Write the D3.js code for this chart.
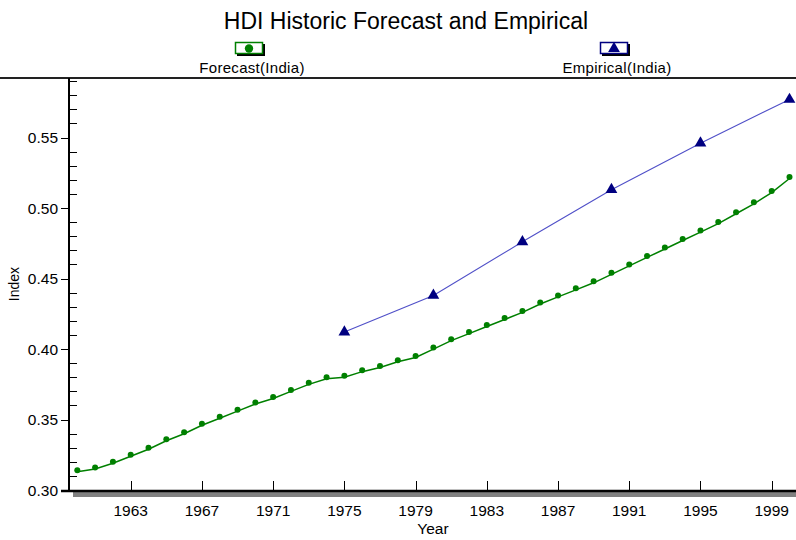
<!DOCTYPE html>
<html>
<head>
<meta charset="utf-8">
<script src="https://cdn.jsdelivr.net/npm/d3@7/dist/d3.min.js"></script>
<style>
  html, body { margin: 0; padding: 0; background: #fff; }
  svg { display: block; font-family: "Liberation Sans", Arial, sans-serif; }
</style>
</head>
<body>
<svg id="chart" width="796" height="540"></svg>
<script>
// Forecast HDI for India, one value per year 1960-2000
const forecastYears = d3.range(1960, 2001);
const forecastValues = [
  0.314, 0.316, 0.320, 0.325, 0.330, 0.336, 0.341, 0.347, 0.352, 0.357,
  0.362, 0.366, 0.371, 0.376, 0.380, 0.381, 0.385, 0.388, 0.392, 0.395,
  0.401, 0.407, 0.412, 0.417, 0.422, 0.427, 0.433, 0.438, 0.443, 0.448,
  0.454, 0.460, 0.466, 0.472, 0.478, 0.484, 0.490, 0.497, 0.504, 0.512,
  0.522
];
// Empirical HDI for India, five-year observations
const empiricalYears = [1975, 1980, 1985, 1990, 1995, 2000];
const empiricalValues = [0.412, 0.438, 0.476, 0.513, 0.546, 0.577];

const xTickYears = [1963, 1967, 1971, 1975, 1979, 1983, 1987, 1991, 1995, 1999];
const yMajorTicks = [0.30, 0.35, 0.40, 0.45, 0.50, 0.55];

const forecast = forecastYears.map((yr, i) => ({ year: yr, value: forecastValues[i] }));
const empirical = empiricalYears.map((yr, i) => ({ year: yr, value: empiricalValues[i] }));

const svg = d3.select("#chart");
const W = 796;
const plotLeft = 69, plotTop = 78, plotBottom = 491;

const x = d3.scaleLinear().domain([1959.5, 2000.5]).range([68.4, 798.4]);
const y = d3.scaleLinear().domain([0.30, 0.55]).range([490, 137.5]);

// Title
svg.append("text")
  .attr("x", 406).attr("y", 29)
  .attr("text-anchor", "middle")
  .attr("font-size", 23)
  .attr("fill", "#000")
  .text("HDI Historic Forecast and Empirical");

// Legend
const legendItems = [
  { label: "Forecast(India)", box: [235, 42], text: [252, 73], color: "#008000", sym: "circle" },
  { label: "Empirical(India)", box: [600, 42], text: [617, 73], color: "#000080", sym: "triangle" }
];
legendItems.forEach(l => {
  const g = svg.append("g");
  g.append("rect").attr("x", l.box[0] + 2).attr("y", l.box[1] + 2)
    .attr("width", 28).attr("height", 12).attr("fill", "#000");
  g.append("rect").attr("x", l.box[0] + 0.5).attr("y", l.box[1] + 0.5)
    .attr("width", 27).attr("height", 11).attr("fill", "#fff")
    .attr("stroke", l.color).attr("stroke-width", 1.5);
  const sym = l.sym === "circle" ? d3.symbolCircle : d3.symbolTriangle;
  g.append("path")
    .attr("d", d3.symbol().type(sym).size(l.sym === "circle" ? 55 : 60)())
    .attr("transform", `translate(${l.box[0] + 14},${l.box[1] + 6.5})`)
    .attr("fill", l.color);
  g.append("text").attr("x", l.text[0]).attr("y", l.text[1])
    .attr("text-anchor", "middle").attr("font-size", 15)
    .attr("letter-spacing", 0.3)
    .text(l.label);
});

// Separator line under the legend
svg.append("line").attr("x1", 0).attr("x2", W)
  .attr("y1", plotTop).attr("y2", plotTop)
  .attr("stroke", "#222").attr("stroke-width", 2);

// Clip for plotted marks
svg.append("clipPath").attr("id", "plotClip")
  .append("rect").attr("x", plotLeft).attr("y", plotTop)
  .attr("width", W - plotLeft).attr("height", plotBottom - plotTop + 6);

// X-axis shadow
svg.append("rect").attr("x", 73).attr("y", 492).attr("width", W - 73).attr("height", 5)
  .attr("fill", "#808080");

// Y-axis: major ticks outward, minor ticks inward
const yAxis = svg.append("g");
yAxis.append("line").attr("x1", plotLeft).attr("x2", plotLeft).attr("y1", plotTop).attr("y2", plotBottom)
  .attr("stroke", "#000").attr("stroke-width", 2);
const minorTicks = d3.range(31, 60).map(v => v / 100).filter(v => Math.round(v * 100) % 5 !== 0);
yAxis.selectAll(".minor").data(minorTicks).enter().append("line")
  .attr("x1", plotLeft).attr("x2", plotLeft + 8)
  .attr("y1", d => Math.round(y(d)) + 0.5).attr("y2", d => Math.round(y(d)) + 0.5)
  .attr("stroke", "#000").attr("stroke-width", 1);
yAxis.selectAll(".major").data(yMajorTicks).enter().append("line")
  .attr("x1", plotLeft - 8).attr("x2", plotLeft)
  .attr("y1", d => Math.round(y(d)) + 0.5).attr("y2", d => Math.round(y(d)) + 0.5)
  .attr("stroke", "#000").attr("stroke-width", 1);
yAxis.selectAll(".lab").data(yMajorTicks).enter().append("text")
  .attr("x", 58).attr("y", d => y(d) + 5.5)
  .attr("text-anchor", "end").attr("font-size", 15.5)
  .text(d => d3.format(".2f")(d));

// X-axis
const xAxis = svg.append("g");
xAxis.append("line").attr("x1", 61).attr("x2", W).attr("y1", plotBottom).attr("y2", plotBottom)
  .attr("stroke", "#000").attr("stroke-width", 2.5);
xAxis.selectAll(".tick").data(xTickYears).enter().append("line")
  .attr("x1", d => Math.round(x(d)) + 0.5).attr("x2", d => Math.round(x(d)) + 0.5)
  .attr("y1", 481).attr("y2", plotBottom)
  .attr("stroke", "#000").attr("stroke-width", 1);
xAxis.selectAll(".lab").data(xTickYears).enter().append("text")
  .attr("x", d => x(d)).attr("y", 516)
  .attr("text-anchor", "middle").attr("font-size", 15.5)
  .text(d => d);

// Axis titles
svg.append("text").attr("x", 433).attr("y", 534)
  .attr("text-anchor", "middle").attr("font-size", 15.5).text("Year");
svg.append("text")
  .attr("transform", "translate(19,284) rotate(-90)")
  .attr("text-anchor", "middle").attr("font-size", 14).text("Index");

// Series
const plot = svg.append("g").attr("clip-path", "url(#plotClip)");
const line = d3.line().x(d => x(d.year)).y(d => y(d.value));

plot.append("path").datum(empirical)
  .attr("d", line).attr("fill", "none")
  .attr("stroke", "#5050c8").attr("stroke-width", 1.1);
plot.selectAll(".tri").data(empirical).enter().append("path")
  .attr("d", d3.symbol().type(d3.symbolTriangle).size(60)())
  .attr("transform", d => `translate(${x(d.year)},${y(d.value)})`)
  .attr("fill", "#000080");

plot.append("path").datum(forecast)
  .attr("d", line).attr("fill", "none")
  .attr("transform", "translate(0,1.5)")
  .attr("stroke", "#008000").attr("stroke-width", 1.5);
plot.selectAll(".dot").data(forecast).enter().append("circle")
  .attr("cx", d => x(d.year)).attr("cy", d => y(d.value))
  .attr("r", 3).attr("fill", "#008000");
</script>
</body>
</html>
